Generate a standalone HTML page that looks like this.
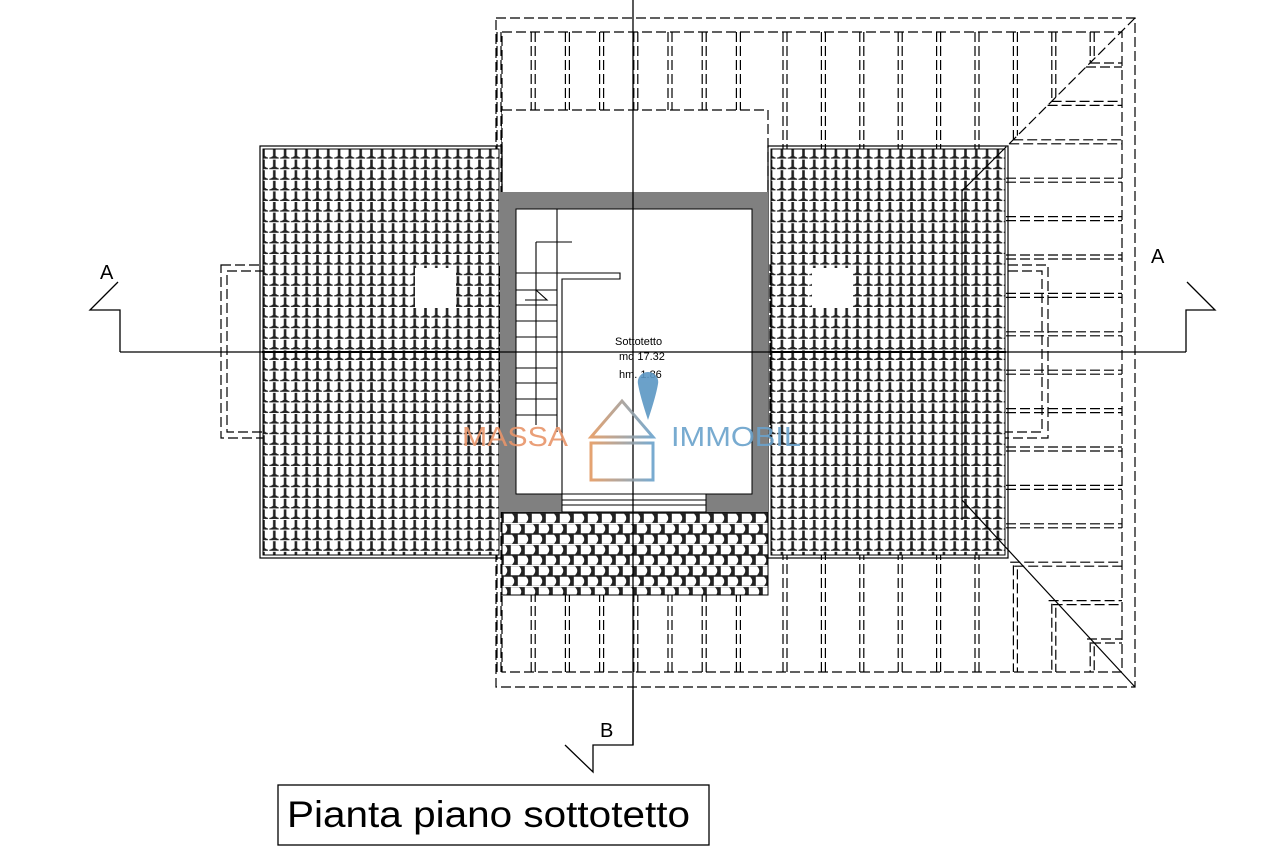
<!DOCTYPE html>
<html><head><meta charset="utf-8"><style>
html,body{margin:0;padding:0;background:#fff;}
svg{display:block;font-family:"Liberation Sans",sans-serif;}
</style></head><body>
<svg id="s" width="1263" height="867" viewBox="0 0 1263 867" xmlns="http://www.w3.org/2000/svg">
<defs>
<pattern id="tv" x="263" y="149" width="10.8" height="10.6" patternUnits="userSpaceOnUse">
<rect width="10.8" height="10.6" fill="#222"/>
<path d="M1.8,0 H10 V7 Q5.9,10.4 1.8,7 Z" fill="#fff"/>
<rect x="4.9" y="7" width="1.4" height="3.6" fill="#fff"/>
<rect x="0" y="9.6" width="10.8" height="1" fill="#fff"/>
</pattern>
<pattern id="th" x="503" y="513" width="14" height="21" patternUnits="userSpaceOnUse">
<rect width="14" height="21" fill="#222"/>
<path d="M0.8,0.8 H9 Q13.5,5.2 9,9.7 H0.8 Z" fill="#fff"/>
<path d="M7.8,11.3 H16 Q20.5,15.7 16,20.2 H7.8 Z" fill="#fff"/>
<path d="M-6.2,11.3 H2 Q6.5,15.7 2,20.2 H-6.2 Z" fill="#fff"/>
<rect x="0" y="9.9" width="14" height="1.2" fill="#fff"/>
</pattern>
<linearGradient id="hg" x1="0" x2="1"><stop offset="0" stop-color="#e39a62"/><stop offset="1" stop-color="#6aa2cc"/></linearGradient>
</defs>
<rect width="1263" height="867" fill="#fff"/>
<g id="raft" stroke="#000" stroke-width="1.2" stroke-dasharray="10 4" fill="none"></g>
<g stroke="#000" stroke-width="1.2" stroke-dasharray="10 4" fill="none">
<rect x="496" y="18" width="639" height="669"/>
<path d="M502,32 H1122 V672 H502 Z"/>
<rect x="502" y="110" width="266" height="84" fill="#fff"/>
<rect x="221" y="265" width="279" height="173"/>
<rect x="227" y="271" width="273" height="161"/>
<rect x="770" y="265" width="278" height="173"/>
<rect x="770" y="271" width="272" height="161"/>
<path d="M1135,18 L1005,148"/>
</g>
<rect x="260" y="146" width="242" height="412" fill="none" stroke="#000" stroke-width="1.2"/>
<rect x="263" y="149" width="236" height="406" fill="url(#tv)" stroke="#000"/>
<rect x="768" y="146" width="240" height="412" fill="none" stroke="#000" stroke-width="1.2"/>
<rect x="771" y="149" width="234" height="406" fill="url(#tv)" stroke="#000"/>
<rect x="502" y="512" width="266" height="83" fill="url(#th)" stroke="#000"/>
<line x1="262" y1="352" x2="500" y2="352" stroke="#000" stroke-width="2"/>
<line x1="770" y1="352" x2="1006" y2="352" stroke="#000" stroke-width="2"/>
<rect x="415" y="268" width="41" height="40" fill="#fff"/>
<rect x="812" y="268" width="41" height="40" fill="#fff"/>
<g stroke="#000" stroke-width="1.2" fill="none">
<path d="M1005,148 L962,191"/>
<path d="M962,500 L1135,687"/>
<line x1="962" y1="190" x2="962" y2="520"/>
</g>
<rect x="500" y="192" width="268" height="320" fill="#808080"/>
<rect x="516" y="209" width="236" height="285" fill="#fff" stroke="#000"/>
<rect x="562" y="494" width="144" height="18" fill="#fff" stroke="#000"/>
<line x1="562" y1="500" x2="706" y2="500" stroke="#000"/>
<line x1="562" y1="505" x2="706" y2="505" stroke="#000"/>
<g stroke="#000" stroke-width="1.1" fill="none">
<line x1="557" y1="209" x2="557" y2="432"/>
<line x1="536" y1="242" x2="536" y2="425"/>
<line x1="536" y1="242" x2="572" y2="242"/>
<path d="M557,273 H620 V279 H562 V494"/>
<path d="M525,300 H547 L536,290"/>
<g id="steps"></g>
</g>
<g stroke="#000" stroke-width="1.3" fill="none">
<line x1="633" y1="0" x2="633" y2="745"/>
<path d="M633,690 V745 H593 V772 L565,745"/>
<path d="M120,352 H1186"/>
<path d="M120,352 V310 H90 L118,282"/>
<path d="M1186,352 V310 H1215 L1187,282"/>
</g>
<text x="100" y="279" font-size="20">A</text>
<text x="1151" y="263" font-size="20">A</text>
<text x="600" y="737" font-size="20">B</text>
<text x="615" y="345" font-size="11">Sottotetto</text>
<text x="619" y="360" font-size="11">mq 17.32</text>
<text x="619" y="378" font-size="11">hm. 1.86</text>
<g opacity="0.9">
<path d="M648,372 a10,10 0 0 1 10,12 q-2,12 -10,36 q-8,-24 -10,-36 a10,10 0 0 1 10,-12z" fill="#5b97c4"/>
<path d="M591,437 L622,401 L653,437 Z" fill="none" stroke="url(#hg)" stroke-width="3"/>
<rect x="591" y="443" width="62" height="37" fill="none" stroke="url(#hg)" stroke-width="3"/>
<text x="462" y="446" font-size="28" fill="#e8956a" textLength="106" lengthAdjust="spacingAndGlyphs">MASSA</text>
<text x="671" y="446" font-size="28" fill="#6aa2cc" textLength="130" lengthAdjust="spacingAndGlyphs">IMMOBIL</text>
</g>
<rect x="278" y="785" width="431" height="60" fill="#fff" stroke="#000" stroke-width="1.3"/>
<text x="287" y="827" font-size="37" textLength="403" lengthAdjust="spacingAndGlyphs">Pianta piano sottotetto</text>
</svg>
<script>
var NS="http://www.w3.org/2000/svg";
function L(g,x1,y1,x2,y2){var l=document.createElementNS(NS,"line");l.setAttribute("x1",x1);l.setAttribute("y1",y1);l.setAttribute("x2",x2);l.setAttribute("y2",y2);g.appendChild(l);}
var r=document.getElementById("raft");
var xs=[];for(var x=497;x<=770;x+=34.2)xs.push(x);
for(var x=783;x<=1095;x+=38.4)xs.push(x);
xs.forEach(function(x){[x,x+4].forEach(function(xx){
 if(xx>1006){var t=1153-xx;var b=xx-448;if(t>34)L(r,xx,32,xx,t);if(b<670)L(r,xx,b,xx,672);}
 else L(r,xx,32,xx,672);});});
for(var y=63;y<=645;y+=38.4){[y,y+4].forEach(function(yy){
 var s=1006;if(yy<148)s=1153-yy;if(yy>500)s=Math.max(1006,yy+448);
 if(s<1120)L(r,s,yy,1122,yy);});}
var st=document.getElementById("steps");
[273,290,305,321,337,352,368,383,399,415].forEach(function(y){L(st,516,y,557,y);});
</script>
</body></html>
